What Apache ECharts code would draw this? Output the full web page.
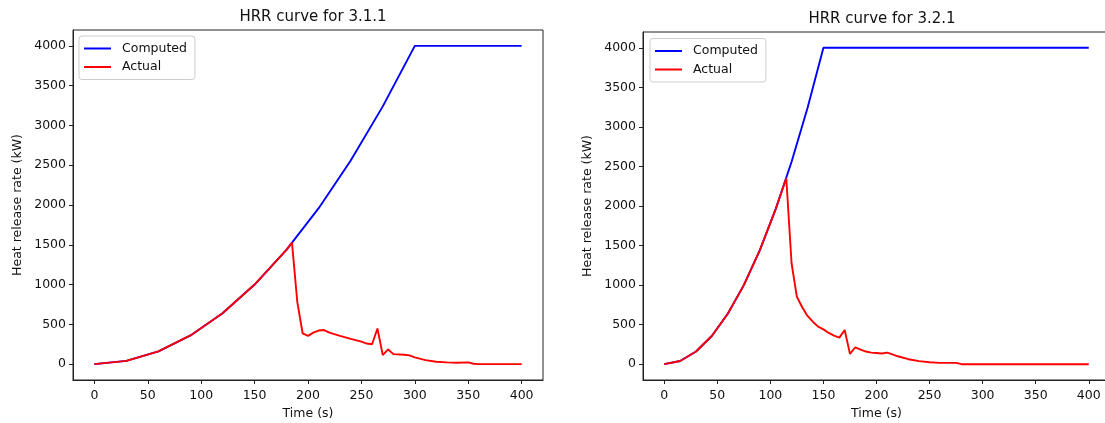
<!DOCTYPE html>
<html>
<head>
<meta charset="utf-8">
<script src="https://cdn.jsdelivr.net/npm/echarts@6/dist/echarts.min.js"></script>
<style>
html,body{margin:0;padding:0;background:#fff;}
#c{width:1105px;height:423px;}
</style>
</head>
<body>
<div id="c"></div>
<script>
// Chart 3.1.1
const computedT1 = [0,30,60,90,120,150,180,210,240,270,300,400];
const computedV1 = [0,40,160,360,640,1000,1440,1960,2560,3240,4000,4000];
const actualT1 = [0,30,60,90,120,150,180,185,190,195,200,205,210,215,220,230,240,250,255,260,265,270,275,280,290,295,300,310,320,330,340,350,355,360,400];
const actualV1 = [0,40,160,360,640,1000,1440,1527,780,385,355,395,422,428,395,355,318,282,258,250,448,113,184,125,118,110,84,50,29,21,17,21,4,0,0];
// Chart 3.2.1
const computedT2 = [0,15,30,45,60,75,90,105,120,135,150,400];
const computedV2 = [0,40,160,360,640,1000,1440,1960,2560,3240,4000,4000];
const actualT2 = [0,15,30,45,60,75,90,105,115,120,125,130,135,140,145,150,155,160,165,170,175,180,185,190,195,200,205,210,215,220,230,240,250,260,270,275,280,400];
const actualV2 = [0,40,160,360,640,1000,1440,1960,2351,1273,852,720,610,537,475,440,395,360,336,432,130,214,185,160,146,142,135,146,125,100,63,38,25,17,17,17,0,0];
// Ticks
const xTicks = [0,50,100,150,200,250,300,350,400];
const yTicks = [0,500,1000,1500,2000,2500,3000,3500,4000];
const titles = ['HRR curve for 3.1.1','HRR curve for 3.2.1'];
const seriesNames = ['Computed','Actual'];

const pairs = (t,v) => t.map((x,i)=>[x,v[i]]);
const FONT = 'DejaVu Sans';
const txt = '#111';
const plain = v => String(v);

function xAxis(gi){
  return {
    type:'value', gridIndex:gi, min:-20, max:420,
    name:'Time (s)', nameLocation:'middle', nameGap:27,
    nameTextStyle:{fontFamily:FONT,fontSize:12.5,color:txt},
    axisLine:{show:true,onZero:false,lineStyle:{color:'#222',width:1}},
    axisTick:{show:true,inside:false,length:4,customValues:xTicks,lineStyle:{color:'#222'}},
    axisLabel:{customValues:xTicks,formatter:plain,fontFamily:FONT,fontSize:12.5,color:txt,margin:9},
    splitLine:{show:false}
  };
}
function yAxis(gi){
  return {
    type:'value', gridIndex:gi, min:-200, max:4200,
    name:'Heat release rate (kW)', nameLocation:'middle', nameGap:49, nameRotate:90,
    nameTextStyle:{fontFamily:FONT,fontSize:12.5,color:txt},
    axisLine:{show:true,onZero:false,lineStyle:{color:'#222',width:1}},
    axisTick:{show:true,inside:false,length:4,customValues:yTicks,lineStyle:{color:'#222'}},
    axisLabel:{customValues:yTicks,formatter:plain,fontFamily:FONT,fontSize:12.5,color:txt,margin:7},
    splitLine:{show:false}
  };
}
function legend(left,top){
  return {
    orient:'vertical', left:left, top:top, data:seriesNames,
    icon:'rect', itemWidth:27, itemHeight:2, itemGap:3.5,
    padding:[5,8,5,5],
    backgroundColor:'rgba(255,255,255,0.8)', borderColor:'#cccccc', borderWidth:1, borderRadius:3,
    textStyle:{fontFamily:FONT,fontSize:12.5,color:txt,padding:[0,0,0,6],lineHeight:15},
    selectedMode:false
  };
}
function line(name,gi,data,color,z){
  return {type:'line',name:name,xAxisIndex:gi,yAxisIndex:gi,data:data,
    symbol:'none',showSymbol:false,smooth:false,animation:false,z:z,
    lineStyle:{color:color,width:1.9},itemStyle:{color:color}};
}

const chart = echarts.init(document.getElementById('c'),null,{renderer:'canvas'});
chart.setOption({
  animation:false,
  backgroundColor:'#fff',
  title:[
    {text:titles[0],left:308,top:5,textAlign:'center',textStyle:{fontFamily:FONT,fontSize:15,fontWeight:'normal',color:txt}},
    {text:titles[1],left:877,top:7,textAlign:'center',textStyle:{fontFamily:FONT,fontSize:15,fontWeight:'normal',color:txt}}
  ],
  legend:[legend(79,36),legend(650,38.5)],
  grid:[
    {left:73,top:30,width:470,height:350,show:true,borderColor:'#222',borderWidth:1,backgroundColor:'transparent',outerBoundsMode:'none',containLabel:false},
    {left:643,top:32,width:467,height:348,show:true,borderColor:'#222',borderWidth:1,backgroundColor:'transparent',outerBoundsMode:'none',containLabel:false}
  ],
  xAxis:[xAxis(0),xAxis(1)],
  yAxis:[yAxis(0),yAxis(1)],
  series:[
    line(seriesNames[0],0,pairs(computedT1,computedV1),'#0000ff',2),
    line(seriesNames[1],0,pairs(actualT1,actualV1),'#ff0000',3),
    line(seriesNames[0],1,pairs(computedT2,computedV2),'#0000ff',2),
    line(seriesNames[1],1,pairs(actualT2,actualV2),'#ff0000',3)
  ]
});
</script>
</body>
</html>
